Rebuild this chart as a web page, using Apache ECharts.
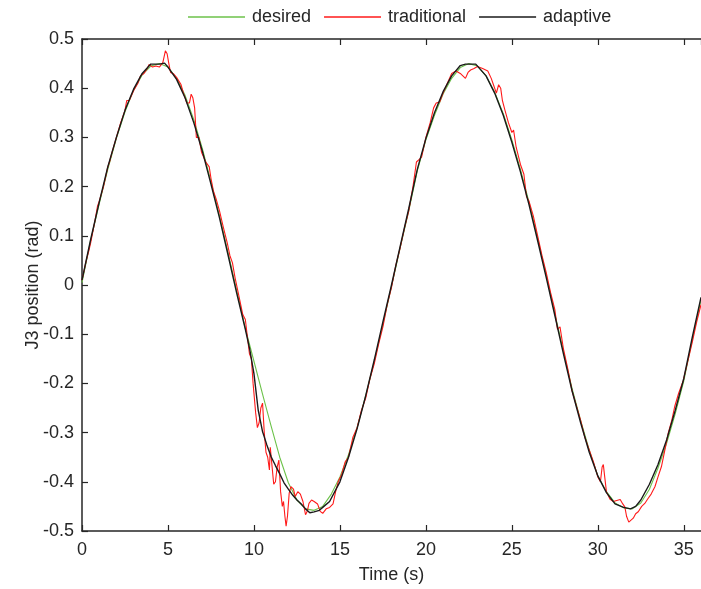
<!DOCTYPE html>
<html><head><meta charset="utf-8">
<script src="https://cdn.jsdelivr.net/npm/echarts@6/dist/echarts.min.js"></script>
<style>html,body{margin:0;padding:0;background:#fff}#c{width:701px;height:589px}</style>
</head><body><div id="c"></div>
<script>
// ---- data ----
const xTicks = [0, 5, 10, 15, 20, 25, 30, 35];
const yTicks = [-0.5, -0.4, -0.3, -0.2, -0.1, 0, 0.1, 0.2, 0.3, 0.4, 0.5];
const seriesNames = ['desired', 'traditional', 'adaptive'];

const tDesired = [0,0.5,1,1.5,2,2.5,3,3.5,4,4.5,5,5.5,6,6.5,7,7.5,8,8.5,9,9.5,10,10.5,11,11.5,12,12.5,13,13.5,14,14.5,15,15.5,16,16.5,17,17.5,18,18.5,19,19.5,20,20.5,21,21.5,22,22.5,23,23.5,24,24.5,25,25.5,26,26.5,27,27.5,28,28.5,29,29.5,30,30.5,31,31.5,32,32.5,33,33.5,34,34.5,35,35.5,36];
const desired = [0.005,0.09,0.165,0.235,0.298,0.352,0.396,0.427,0.445,0.45,0.443,0.42,0.385,0.336,0.277,0.21,0.14,0.065,-0.012,-0.088,-0.155,-0.222,-0.287,-0.35,-0.402,-0.437,-0.455,-0.458,-0.45,-0.425,-0.39,-0.345,-0.29,-0.225,-0.155,-0.08,-0.003,0.075,0.15,0.232,0.295,0.345,0.388,0.42,0.442,0.45,0.445,0.425,0.392,0.348,0.295,0.235,0.168,0.095,0.02,-0.058,-0.135,-0.21,-0.275,-0.335,-0.388,-0.42,-0.443,-0.453,-0.455,-0.443,-0.415,-0.372,-0.322,-0.262,-0.195,-0.11,-0.03];

const tTraditional = [0,0.25,0.4,0.5,0.75,0.9,1.0,1.25,1.5,1.6,1.75,2.0,2.25,2.5,2.6,2.75,3.0,3.25,3.4,3.6,3.8,3.9,4.1,4.3,4.5,4.7,4.85,4.95,5.05,5.15,5.3,5.5,5.75,5.9,6.1,6.25,6.35,6.45,6.55,6.65,6.8,6.95,7.05,7.2,7.4,7.5,7.65,7.8,8.0,8.2,8.3,8.45,8.6,8.75,8.9,9.05,9.2,9.35,9.5,9.6,9.74,9.85,9.95,10.05,10.1,10.2,10.3,10.4,10.5,10.6,10.7,10.8,10.9,10.95,11.05,11.15,11.25,11.35,11.45,11.55,11.65,11.72,11.8,11.87,11.95,12.05,12.15,12.3,12.4,12.55,12.7,12.85,13.0,13.1,13.2,13.35,13.5,13.7,13.85,14.0,14.2,14.4,14.6,14.75,14.9,15.1,15.3,15.5,15.75,16.0,16.25,16.5,16.75,17.0,17.25,17.5,17.75,18.0,18.25,18.5,18.75,19.0,19.25,19.45,19.6,19.75,20.0,20.25,20.45,20.6,20.8,21.0,21.25,21.5,21.75,22.0,22.3,22.45,22.6,22.8,23.0,23.3,23.6,23.8,23.95,24.1,24.23,24.35,24.45,24.6,24.8,25.0,25.1,25.25,25.5,25.7,25.85,26.0,26.25,26.5,26.75,27.0,27.25,27.5,27.65,27.8,28.0,28.25,28.5,28.75,29.0,29.25,29.5,29.75,30.0,30.15,30.25,30.32,30.4,30.5,30.7,30.9,31.1,31.3,31.45,31.57,31.67,31.8,31.9,32.06,32.2,32.35,32.55,32.73,32.9,33.1,33.32,33.5,33.7,33.9,34.1,34.3,34.47,34.7,34.96,35.2,35.5,35.75,36.0];
const traditional = [0.01,0.05,0.07,0.085,0.13,0.16,0.17,0.2,0.24,0.25,0.27,0.3,0.33,0.355,0.375,0.375,0.395,0.41,0.425,0.43,0.44,0.448,0.443,0.445,0.443,0.452,0.476,0.47,0.45,0.432,0.43,0.422,0.408,0.39,0.37,0.37,0.388,0.38,0.36,0.3,0.3,0.27,0.273,0.25,0.24,0.217,0.19,0.175,0.15,0.12,0.118,0.085,0.06,0.045,0.015,-0.01,-0.035,-0.06,-0.07,-0.1,-0.14,-0.15,-0.2,-0.2,-0.26,-0.29,-0.28,-0.25,-0.24,-0.3,-0.34,-0.35,-0.376,-0.33,-0.33,-0.405,-0.4,-0.37,-0.356,-0.42,-0.45,-0.44,-0.47,-0.49,-0.47,-0.423,-0.41,-0.415,-0.43,-0.42,-0.425,-0.44,-0.467,-0.46,-0.444,-0.437,-0.44,-0.445,-0.46,-0.464,-0.455,-0.452,-0.445,-0.42,-0.4,-0.385,-0.36,-0.35,-0.31,-0.29,-0.255,-0.23,-0.19,-0.16,-0.12,-0.085,-0.04,-0.005,0.04,0.075,0.115,0.15,0.2,0.25,0.255,0.26,0.3,0.33,0.36,0.37,0.372,0.39,0.41,0.43,0.435,0.43,0.42,0.432,0.437,0.44,0.444,0.44,0.435,0.42,0.405,0.39,0.407,0.4,0.375,0.355,0.33,0.31,0.315,0.28,0.245,0.225,0.18,0.17,0.14,0.1,0.06,0.025,-0.015,-0.05,-0.09,-0.085,-0.13,-0.17,-0.215,-0.245,-0.275,-0.31,-0.335,-0.36,-0.39,-0.4,-0.37,-0.365,-0.39,-0.42,-0.435,-0.44,-0.438,-0.436,-0.445,-0.451,-0.47,-0.482,-0.48,-0.474,-0.465,-0.461,-0.45,-0.444,-0.435,-0.425,-0.41,-0.39,-0.369,-0.335,-0.3,-0.275,-0.247,-0.22,-0.195,-0.16,-0.115,-0.075,-0.04];

const tAdaptive = [0,0.5,1,1.5,2,2.5,3,3.5,4,4.5,4.8,5,5.5,6,6.5,7,7.5,8,8.5,9,9.5,9.75,10,10.25,10.5,10.75,11,11.25,11.5,11.75,12,12.25,12.5,12.75,13,13.25,13.5,13.8,14,14.4,15,15.5,16,16.5,17,17.5,18,18.5,19,19.5,20,20.5,21,21.5,22,22.3,22.9,23.5,24,24.5,25,25.5,26,26.5,27,27.5,28,28.5,29,29.5,30,30.5,31,31.5,31.9,32.2,32.5,33,33.5,34,34.5,35,35.5,36];
const adaptive = [0.01,0.092,0.168,0.24,0.3,0.355,0.398,0.43,0.449,0.449,0.451,0.443,0.418,0.38,0.33,0.272,0.205,0.136,0.06,-0.017,-0.09,-0.13,-0.18,-0.255,-0.298,-0.325,-0.349,-0.367,-0.384,-0.402,-0.415,-0.427,-0.437,-0.445,-0.455,-0.463,-0.461,-0.458,-0.452,-0.44,-0.4,-0.35,-0.292,-0.225,-0.152,-0.075,0.0,0.078,0.155,0.235,0.298,0.35,0.393,0.425,0.446,0.449,0.449,0.425,0.39,0.345,0.29,0.23,0.163,0.09,0.015,-0.062,-0.14,-0.215,-0.28,-0.34,-0.388,-0.422,-0.445,-0.452,-0.455,-0.45,-0.437,-0.405,-0.365,-0.315,-0.255,-0.19,-0.105,-0.025];

const pairs = (t, v) => t.map((x, i) => [x, v[i]]);

const FONT = '"Liberation Sans", Arial, sans-serif';
const TXT = '#262626';
const chart = echarts.init(document.getElementById('c'), null, {renderer: 'canvas'});
const axisLine = {show: true, onZero: false, lineStyle: {color: TXT, width: 1.5}};
const tick = {show: true, inside: true, length: 6, lineStyle: {color: TXT, width: 1.2}};
chart.setOption({
  animation: false,
  backgroundColor: '#fff',
  legend: {
    data: seriesNames.map(n => ({name: n, icon: 'rect'})),
    left: 183, top: 3,
    itemWidth: 57, itemHeight: 1.5, itemGap: 13,
    textStyle: {fontFamily: FONT, fontSize: 18, color: TXT, padding: [0, 0, 0, 2]}
  },
  grid: {left: 82, top: 39, width: 622, height: 495, containLabel: false},
  xAxis: [{
    type: 'value', min: 0, max: 36, interval: 5, position: 'bottom',
    name: 'Time (s)', nameLocation: 'middle', nameGap: 35,
    nameTextStyle: {fontFamily: FONT, fontSize: 18, color: TXT},
    axisLine: axisLine, axisTick: tick,
    axisLabel: {fontFamily: FONT, fontSize: 18, color: TXT, margin: 10, showMaxLabel: false,
      formatter: v => xTicks.includes(v) ? String(v) : ''},
    splitLine: {show: false}
  }, {
    type: 'value', min: 0, max: 36, interval: 5, position: 'top',
    axisLine: axisLine, axisTick: tick,
    axisLabel: {show: false}, splitLine: {show: false}
  }],
  yAxis: {
    type: 'value', min: -0.5, max: 0.5, interval: 0.1,
    name: 'J3 position (rad)', nameLocation: 'middle', nameGap: 40, nameMoveOverlap: false,
    nameTextStyle: {fontFamily: FONT, fontSize: 18, color: TXT},
    axisLine: axisLine, axisTick: tick,
    axisLabel: {fontFamily: FONT, fontSize: 18, color: TXT, margin: 8,
      formatter: v => { const r = Math.round(v * 10) / 10; return yTicks.includes(r) ? String(r) : ''; }},
    splitLine: {show: false}
  },
  series: [
    {name: seriesNames[0], type: 'line', data: pairs(tDesired, desired), showSymbol: false, symbol: 'none',
     color: '#6cc24a', lineStyle: {color: '#6cc24a', width: 1.1}, z: 2},
    {name: seriesNames[1], type: 'line', data: pairs(tTraditional, traditional), showSymbol: false, symbol: 'none',
     color: '#ff1a1a', lineStyle: {color: '#ff1a1a', width: 1.1}, z: 3},
    {name: seriesNames[2], type: 'line', data: pairs(tAdaptive, adaptive), showSymbol: false, symbol: 'none',
     color: '#1a1a1a', lineStyle: {color: '#1a1a1a', width: 1.4}, z: 4}
  ]
});
</script></body></html>
